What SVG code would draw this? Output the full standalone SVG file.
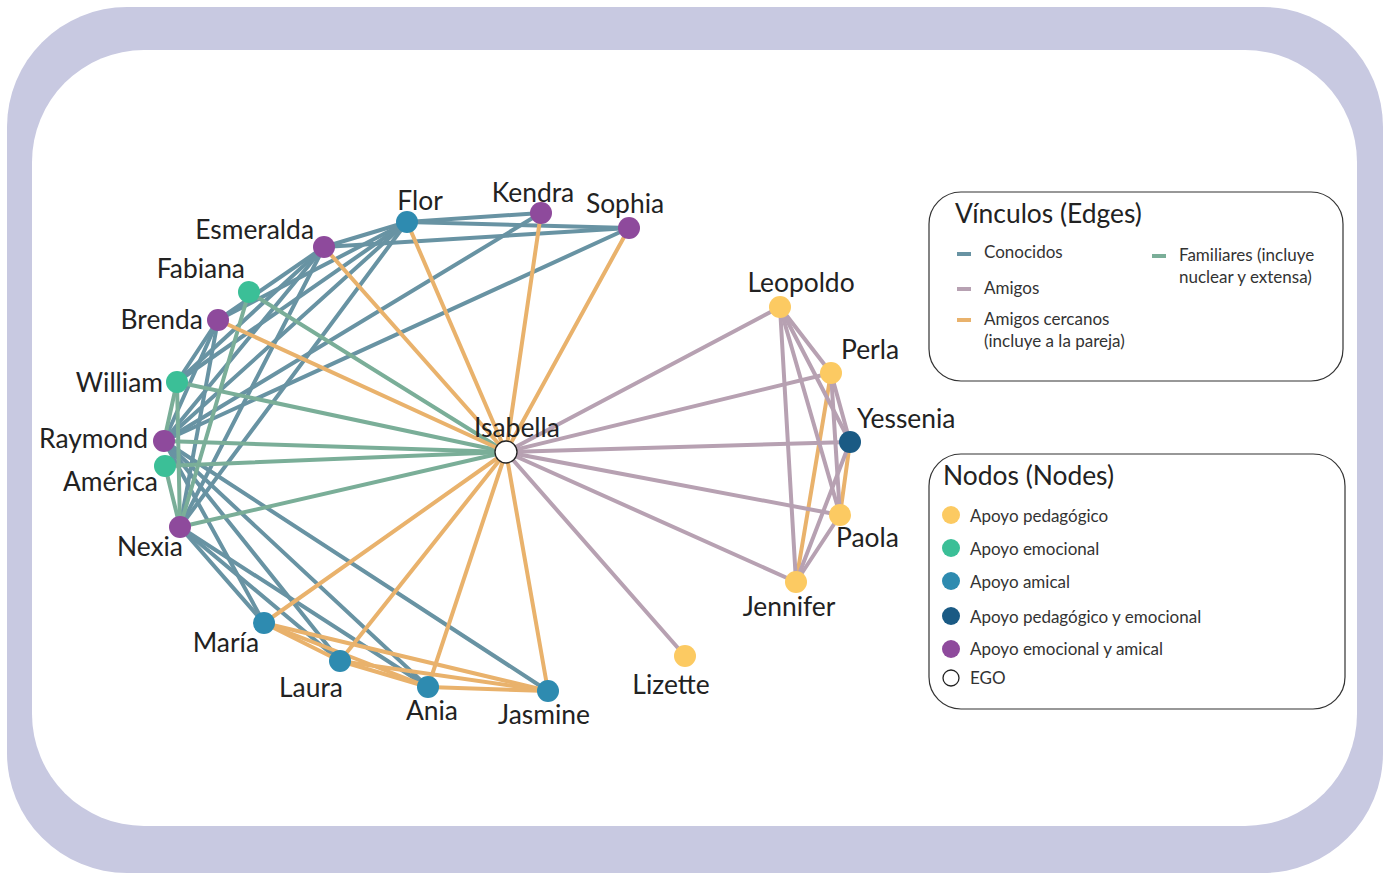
<svg xmlns="http://www.w3.org/2000/svg" width="1389" height="874" viewBox="0 0 1389 874">
<style>
.k{stroke:#6893a3}
.a{stroke:#b7a1b2}
.c{stroke:#e9b26c}
.f{stroke:#7aae98}
#edges line{stroke-width:4;stroke-linecap:round}
.lbl{font-family:Lato,"Liberation Sans",sans-serif;font-size:26.4px;fill:#222}
.lg{font-family:Lato,"Liberation Sans",sans-serif;font-size:17px;fill:#333}
.lt{font-family:Lato,"Liberation Sans",sans-serif;font-size:26.4px;fill:#222}
.ped{fill:#fcca62}.emo{fill:#3bbf97}.ami{fill:#2e8bb0}.pe{fill:#1a5a84}.ea{fill:#8e4a9c}
.ego{fill:#fff;stroke:#222;stroke-width:1.3}
.box{fill:#fff;stroke:#333;stroke-width:1.2}
</style>
<rect x="7" y="7" width="1376" height="866" rx="120" fill="#c8c9e1"/>
<rect x="32" y="50" width="1325" height="776" rx="112" fill="#fff"/>
<g id="edges">
<!-- conocidos -->
<line class="k" x1="407" y1="222" x2="541" y2="213"/>
<line class="k" x1="407" y1="222" x2="629" y2="228"/>
<line class="k" x1="324" y1="247" x2="629" y2="228"/>
<line class="k" x1="324" y1="247" x2="407" y2="222"/>
<line class="k" x1="541" y1="213" x2="164" y2="441"/>
<line class="k" x1="629" y1="228" x2="164" y2="441"/>
<line class="k" x1="407" y1="222" x2="218" y2="320"/>
<line class="k" x1="407" y1="222" x2="177" y2="382"/>
<line class="k" x1="407" y1="222" x2="164" y2="441"/>
<line class="k" x1="407" y1="222" x2="180" y2="527"/>
<line class="k" x1="324" y1="247" x2="218" y2="320"/>
<line class="k" x1="324" y1="247" x2="177" y2="382"/>
<line class="k" x1="324" y1="247" x2="164" y2="441"/>
<line class="k" x1="324" y1="247" x2="180" y2="527"/>
<line class="k" x1="218" y1="320" x2="177" y2="382"/>
<line class="k" x1="218" y1="320" x2="164" y2="441"/>
<line class="k" x1="218" y1="320" x2="180" y2="527"/>
<line class="k" x1="164" y1="441" x2="264" y2="623"/>
<line class="k" x1="164" y1="441" x2="340" y2="661"/>
<line class="k" x1="164" y1="441" x2="428" y2="687"/>
<line class="k" x1="164" y1="441" x2="548" y2="691"/>
<line class="k" x1="180" y1="527" x2="264" y2="623"/>
<line class="k" x1="180" y1="527" x2="340" y2="661"/>
<line class="k" x1="180" y1="527" x2="428" y2="687"/>
<!-- familiares -->
<line class="f" x1="506" y1="452" x2="249" y2="292"/>
<line class="f" x1="506" y1="452" x2="177" y2="382"/>
<line class="f" x1="506" y1="452" x2="164" y2="441"/>
<line class="f" x1="506" y1="452" x2="165" y2="466"/>
<line class="f" x1="506" y1="452" x2="180" y2="527"/>
<line class="f" x1="177" y1="382" x2="164" y2="441"/>
<line class="f" x1="177" y1="382" x2="180" y2="527"/>
<line class="f" x1="249" y1="292" x2="180" y2="527"/>
<line class="f" x1="165" y1="466" x2="180" y2="527"/>
<!-- amigos cercanos -->
<line class="c" x1="506" y1="452" x2="407" y2="222"/>
<line class="c" x1="506" y1="452" x2="541" y2="213"/>
<line class="c" x1="506" y1="452" x2="629" y2="228"/>
<line class="c" x1="506" y1="452" x2="324" y2="247"/>
<line class="c" x1="506" y1="452" x2="218" y2="320"/>
<line class="c" x1="506" y1="452" x2="264" y2="623"/>
<line class="c" x1="506" y1="452" x2="340" y2="661"/>
<line class="c" x1="506" y1="452" x2="428" y2="687"/>
<line class="c" x1="506" y1="452" x2="548" y2="691"/>
<line class="c" x1="264" y1="623" x2="340" y2="661"/>
<line class="c" x1="264" y1="623" x2="428" y2="687"/>
<line class="c" x1="264" y1="623" x2="548" y2="691"/>
<line class="c" x1="340" y1="661" x2="428" y2="687"/>
<line class="c" x1="340" y1="661" x2="548" y2="691"/>
<line class="c" x1="428" y1="687" x2="548" y2="691"/>
<line class="c" x1="831" y1="373" x2="796" y2="582"/>
<line class="c" x1="850" y1="442" x2="840" y2="515"/>
<!-- amigos -->
<line class="a" x1="506" y1="452" x2="780" y2="307"/>
<line class="a" x1="506" y1="452" x2="831" y2="373"/>
<line class="a" x1="506" y1="452" x2="850" y2="442"/>
<line class="a" x1="506" y1="452" x2="840" y2="515"/>
<line class="a" x1="506" y1="452" x2="796" y2="582"/>
<line class="a" x1="506" y1="452" x2="685" y2="656"/>
<line class="a" x1="780" y1="307" x2="831" y2="373"/>
<line class="a" x1="780" y1="307" x2="850" y2="442"/>
<line class="a" x1="780" y1="307" x2="840" y2="515"/>
<line class="a" x1="780" y1="307" x2="796" y2="582"/>
<line class="a" x1="831" y1="373" x2="850" y2="442"/>
<line class="a" x1="831" y1="373" x2="840" y2="515"/>
<line class="a" x1="850" y1="442" x2="796" y2="582"/>
<line class="a" x1="840" y1="515" x2="796" y2="582"/>
</g>
<g id="n-flor"><circle class="ami" cx="407" cy="222" r="11"/><text class="lbl" x="420" y="210" text-anchor="middle">Flor</text></g>
<g id="n-kendra"><circle class="ea" cx="541" cy="213" r="11"/><text class="lbl" x="533" y="202" text-anchor="middle">Kendra</text></g>
<g id="n-sophia"><circle class="ea" cx="629" cy="228" r="11"/><text class="lbl" x="625" y="213" text-anchor="middle">Sophia</text></g>
<g id="n-esmeralda"><circle class="ea" cx="324" cy="247" r="11"/><text class="lbl" x="314" y="239" text-anchor="end">Esmeralda</text></g>
<g id="n-fabiana"><circle class="emo" cx="249" cy="292" r="11"/><text class="lbl" x="245" y="278" text-anchor="end">Fabiana</text></g>
<g id="n-brenda"><circle class="ea" cx="218" cy="320" r="11"/><text class="lbl" x="203" y="329" text-anchor="end">Brenda</text></g>
<g id="n-william"><circle class="emo" cx="177" cy="382" r="11"/><text class="lbl" x="163" y="392" text-anchor="end">William</text></g>
<g id="n-raymond"><circle class="ea" cx="164" cy="441" r="11"/><text class="lbl" x="148" y="448" text-anchor="end">Raymond</text></g>
<g id="n-america"><circle class="emo" cx="165" cy="466" r="11"/><text class="lbl" x="158" y="491" text-anchor="end">América</text></g>
<g id="n-nexia"><circle class="ea" cx="180" cy="527" r="11"/><text class="lbl" x="183" y="556" text-anchor="end">Nexia</text></g>
<g id="n-maria"><circle class="ami" cx="264" cy="623" r="11"/><text class="lbl" x="259" y="652" text-anchor="end">María</text></g>
<g id="n-laura"><circle class="ami" cx="340" cy="661" r="11"/><text class="lbl" x="311" y="697" text-anchor="middle">Laura</text></g>
<g id="n-ania"><circle class="ami" cx="428" cy="687" r="11"/><text class="lbl" x="432" y="720" text-anchor="middle">Ania</text></g>
<g id="n-jasmine"><circle class="ami" cx="548" cy="691" r="11"/><text class="lbl" x="544" y="724" text-anchor="middle">Jasmine</text></g>
<g id="n-lizette"><circle class="ped" cx="685" cy="656" r="11"/><text class="lbl" x="671" y="694" text-anchor="middle">Lizette</text></g>
<g id="n-leopoldo"><circle class="ped" cx="780" cy="307" r="11"/><text class="lbl" x="801" y="292" text-anchor="middle">Leopoldo</text></g>
<g id="n-perla"><circle class="ped" cx="831" cy="373" r="11"/><text class="lbl" x="841" y="359">Perla</text></g>
<g id="n-yessenia"><circle class="pe" cx="850" cy="442" r="11"/><text class="lbl" x="857" y="428">Yessenia</text></g>
<g id="n-paola"><circle class="ped" cx="840" cy="515" r="11"/><text class="lbl" x="836" y="547">Paola</text></g>
<g id="n-jennifer"><circle class="ped" cx="796" cy="582" r="11"/><text class="lbl" x="789" y="616" text-anchor="middle">Jennifer</text></g>
<g id="n-isabella"><circle class="ego" cx="506" cy="452" r="11"/><text class="lbl" x="517" y="437" text-anchor="middle">Isabella</text></g>
<g id="legend-edges">
<rect class="box" x="929" y="192" width="414" height="189" rx="32"/>
<text class="lt" x="955" y="223">Vínculos (Edges)</text>
<line x1="957" y1="254" x2="971" y2="254" stroke="#6893a3" stroke-width="4"/>
<text class="lg" x="984" y="258">Conocidos</text>
<line x1="957" y1="289" x2="971" y2="289" stroke="#b7a1b2" stroke-width="4"/>
<text class="lg" x="984" y="294">Amigos</text>
<line x1="957" y1="320" x2="971" y2="320" stroke="#e9b26c" stroke-width="4"/>
<text class="lg" x="984" y="325">Amigos cercanos</text>
<text class="lg" x="984" y="347">(incluye a la pareja)</text>
<line x1="1152" y1="256" x2="1166" y2="256" stroke="#7aae98" stroke-width="4"/>
<text class="lg" x="1179" y="261">Familiares (incluye</text>
<text class="lg" x="1179" y="283">nuclear y extensa)</text>
</g>
<g id="legend-nodes">
<rect class="box" x="929" y="454" width="416" height="255" rx="32"/>
<text class="lt" x="943" y="485">Nodos (Nodes)</text>
<circle class="ped" cx="951" cy="515" r="9"/><text class="lg" x="970" y="522">Apoyo pedagógico</text>
<circle class="emo" cx="951" cy="548" r="9"/><text class="lg" x="970" y="555">Apoyo emocional</text>
<circle class="ami" cx="951" cy="581" r="9"/><text class="lg" x="970" y="588">Apoyo amical</text>
<circle class="pe" cx="951" cy="616" r="9"/><text class="lg" x="970" y="623">Apoyo pedagógico y emocional</text>
<circle class="ea" cx="951" cy="649" r="9"/><text class="lg" x="970" y="655">Apoyo emocional y amical</text>
<circle class="ego" cx="951" cy="678" r="8"/><text class="lg" x="970" y="684">EGO</text>
</g>
</svg>
